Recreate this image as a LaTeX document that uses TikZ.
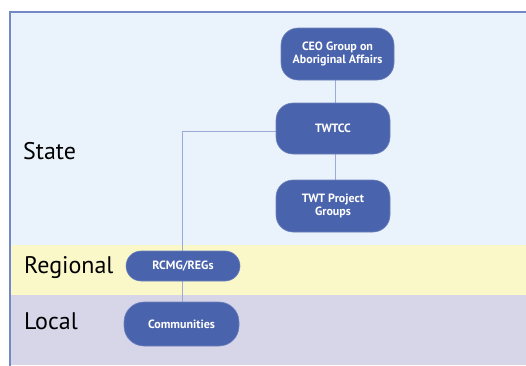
\documentclass[tikz,border=0pt]{standalone}
\usepackage{fontspec}
\setmainfont{PT Sans}
\usetikzlibrary{backgrounds}
\definecolor{statebg}{HTML}{EAF3FB}
\definecolor{regbg}{HTML}{FAF8C9}
\definecolor{locbg}{HTML}{D7D6E8}
\definecolor{nodefill}{HTML}{4A63AD}
\definecolor{linkcol}{HTML}{9BAAD6}
\definecolor{framecol}{HTML}{7488C8}
\tikzset{
  orgbox/.style={draw=nodefill!80!white, line width=0.6pt, fill=nodefill, text=white, font=\fontsize{12}{13}\selectfont\bfseries, align=center, inner sep=0pt},
  levellabel/.style={anchor=west, font=\fontsize{24}{28}\selectfont, inner sep=0pt},
  link/.style={draw=linkcol, line width=0.9pt}
}
\begin{document}
\begin{tikzpicture}[x=1pt,y=-1pt]
\useasboundingbox (0,0) rectangle (526,365);

\node[levellabel] (state) at (23,151) {State};
\node[levellabel] (regional) at (24,268) {Regional};
\node[levellabel] (local) at (24,321) {Local};

\node[orgbox, minimum width=113, minimum height=52, rounded corners=17] (ceo) at (337.5,54) {CEO Group on\\Aboriginal Affairs};
\node[orgbox, minimum width=114, minimum height=51, rounded corners=17] (twtcc) at (333,128.5) {TWTCC};
\node[orgbox, minimum width=114, minimum height=52, rounded corners=17] (twt) at (333,206) {TWT Project\\Groups};
\node[orgbox, minimum width=114, minimum height=30, rounded corners=15] (rcmg) at (183,266) {RCMG/REGs};
\node[orgbox, minimum width=115, minimum height=44, rounded corners=20] (comm) at (181.5,324) {Communities};

\coordinate (bend) at (182,131);
\begin{scope}[on background layer]
\fill[white] (0,0) rectangle (526,365);
\fill[statebg] (10,12) rectangle (526,245);
\fill[regbg] (10,245) rectangle (526,295);
\fill[locbg] (10,295) rectangle (526,365);
\draw[framecol, line width=1.6pt] (10,366) -- (10,12) -- (527,12);
\draw[link] ([xshift=2]twtcc.north) -- ([xshift=2]twtcc.north |- ceo.south);
\draw[link] ([xshift=2]twtcc.south) -- ([xshift=2]twtcc.south |- twt.north);
\draw[link] (twtcc.west |- bend) -- (bend) -- (bend |- comm.north);
\end{scope}
\end{tikzpicture}
\end{document}
